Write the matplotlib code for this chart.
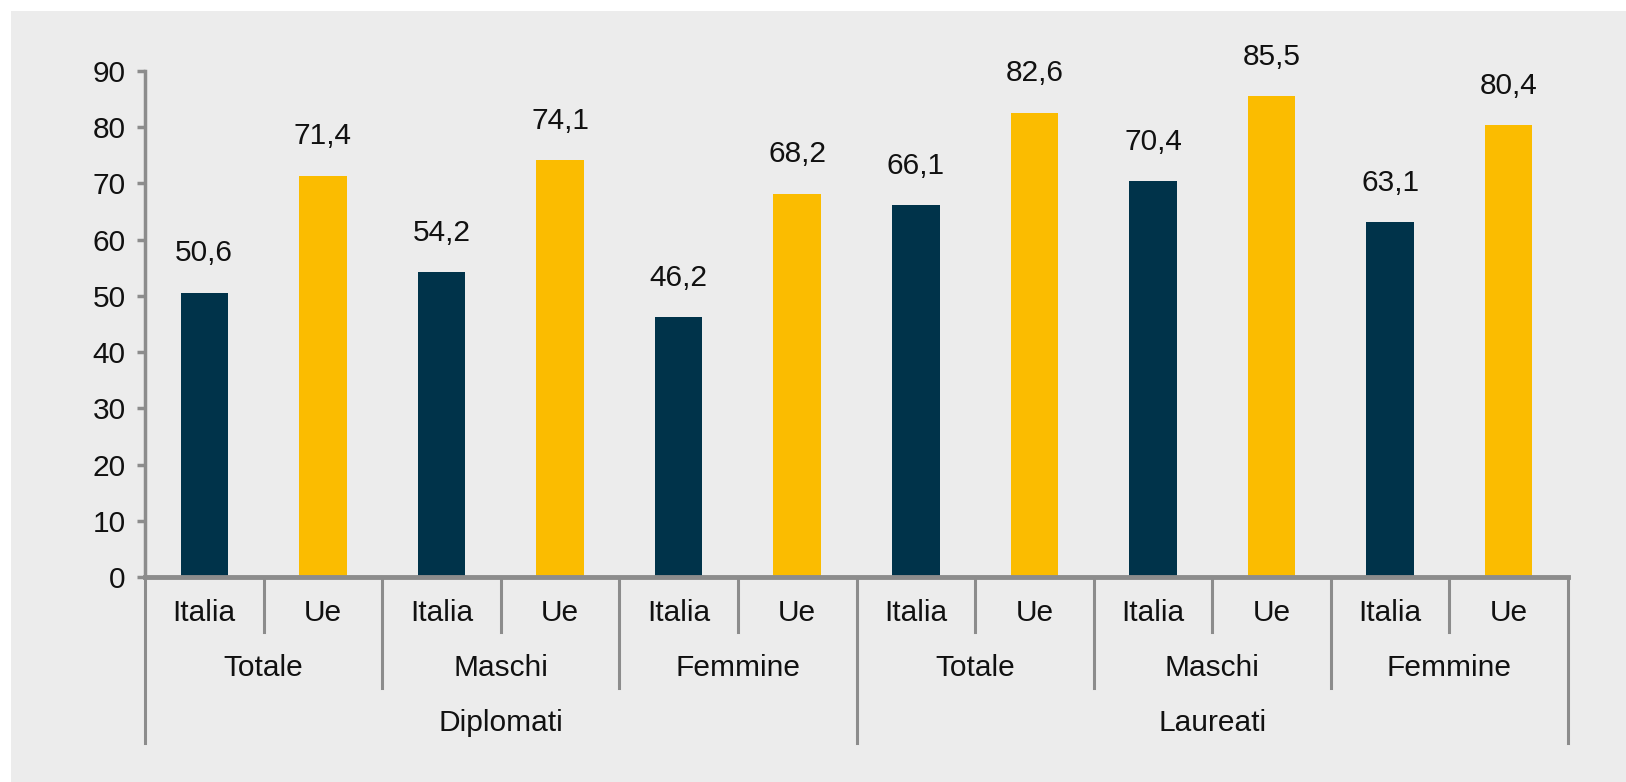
import matplotlib
matplotlib.use("Agg")
import matplotlib.pyplot as plt
from matplotlib.patches import Rectangle
from matplotlib.lines import Line2D

groups = ["Diplomati", "Laureati"]
subgroups = ["Totale", "Maschi", "Femmine"]
countries = ["Italia", "Ue"]
italia = [50.6, 54.2, 46.2, 66.1, 70.4, 63.1]
ue = [71.4, 74.1, 68.2, 82.6, 85.5, 80.4]
yticks = [0, 10, 20, 30, 40, 50, 60, 70, 80, 90]

NAVY = "#00334a"
GOLD = "#fbbc00"
BG = "#ececec"
AX = "#8c8c8c"

plt.rcParams['font.family'] = ['Liberation Sans', 'DejaVu Sans']
FS = 21.5

W, H = 1626, 782
fig = plt.figure(figsize=(W / 100, H / 100), dpi=100, facecolor="white")
fig.patches.append(Rectangle((11 / W, 0), 1 - 11 / W, 1 - 11 / H, transform=fig.transFigure,
                             facecolor=BG, edgecolor="none", zorder=-10))

left, right = 145 / W, 1568 / W
bottom, top = (H - 577) / H, (H - 71) / H
ax = fig.add_axes([left, bottom, right - left, top - bottom])
ax.set_facecolor("none")

n = len(italia) * 2
xs, vals, cols = [], [], []
for i in range(len(italia)):
    xs += [2 * i, 2 * i + 1]
    vals += [italia[i], ue[i]]
    cols += [NAVY, GOLD]

ax.bar(xs, vals, width=0.4, color=cols, zorder=2)
for x, v in zip(xs, vals):
    ax.annotate(f"{v:.1f}".replace(".", ","), (x, v), xytext=(0, 22.5), textcoords="offset points",
                ha="center", va="baseline", fontsize=FS, color="#111111", annotation_clip=False)

ax.set_xlim(-0.5, n - 0.5)
ax.set_ylim(0, 90)
ax.set_yticks(yticks)
ax.set_yticklabels([str(t) for t in yticks], fontsize=FS, color="#111111")
ax.tick_params(axis="y", length=6, width=2.5, color=AX, pad=8)
ax.set_xticks([])
for s in ["top", "right"]:
    ax.spines[s].set_visible(False)
ax.spines["left"].set_color(AX)
ax.spines["left"].set_linewidth(2.5)
ax.spines["bottom"].set_color(AX)
ax.spines["bottom"].set_linewidth(3.5)

axh = 577 - 71
tr = ax.get_xaxis_transform()
l1, l2, l3 = -55 / axh, -111 / axh, -166 / axh
t1, t2, t3 = -36 / axh, -91 / axh, -146 / axh

# dividers
for k in range(n + 1):
    xpos = k - 0.5
    if k % 6 == 0:
        yend = l3
    elif k % 2 == 0:
        yend = l2
    else:
        yend = l1
    ax.add_line(Line2D([xpos, xpos], [0, yend], transform=tr, color=AX, lw=2.2, clip_on=False))

# labels
for k, x in enumerate(xs):
    ax.text(x, t1, countries[k % 2], transform=tr, ha="center", va="center", fontsize=FS, color="#111111")
for j in range(len(italia)):
    ax.text(2 * j + 0.5, t2, subgroups[j % 3], transform=tr, ha="center", va="center", fontsize=FS, color="#111111")
for g, name in enumerate(groups):
    ax.text(6 * g + 2.5, t3, name, transform=tr, ha="center", va="center", fontsize=FS, color="#111111")

fig.savefig("out.png", dpi=100, facecolor="white")
